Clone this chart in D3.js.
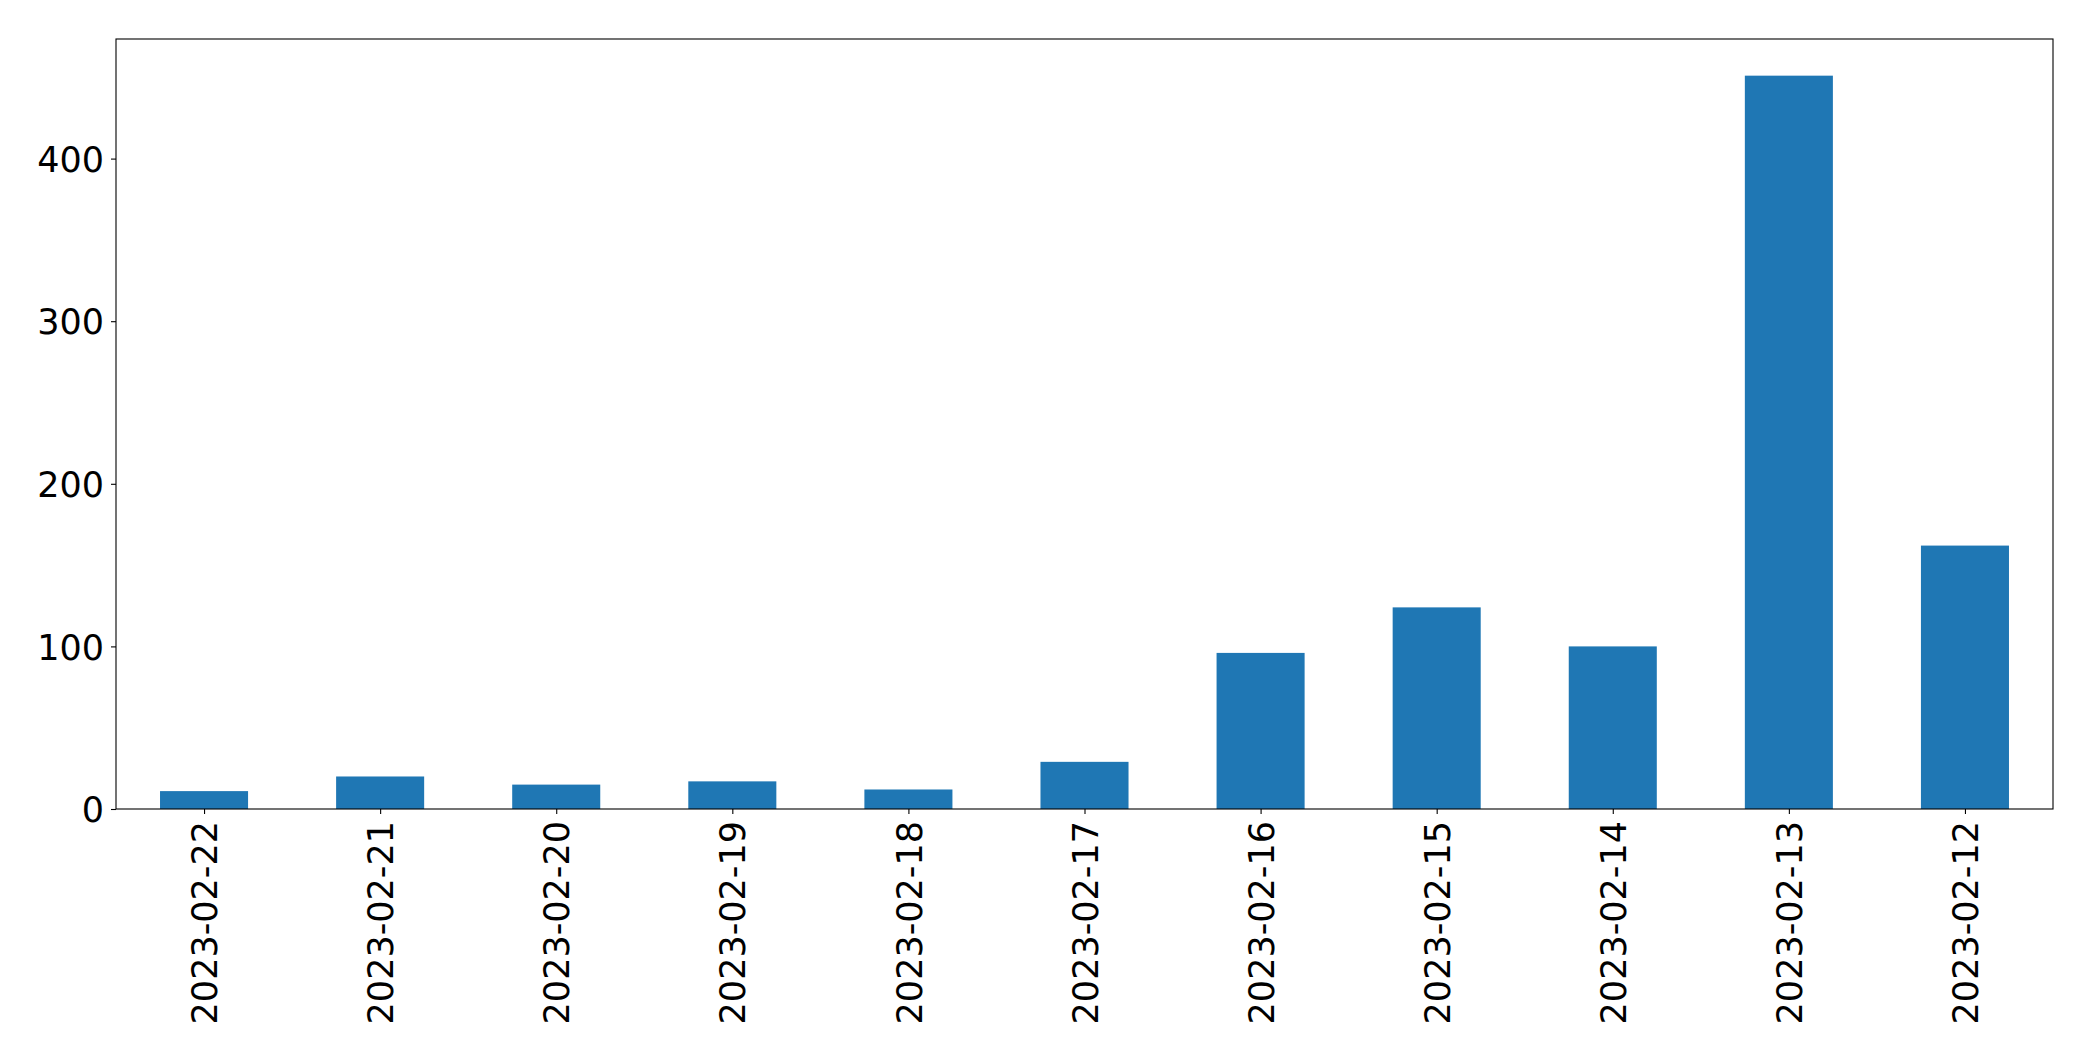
<!DOCTYPE html>
<meta charset="utf-8">
<head>
<title>Daily counts</title>
</head>
<style>
html, body {
  margin: 0;
  background: #fff;
  overflow: hidden;
}
text {
  font-family: "DejaVu Sans", sans-serif;
  fill: #000;
}
</style>
<body>
<script src="https://cdn.jsdelivr.net/npm/d3@7"></script>
<script>

// data
var dates = ["2023-02-22", "2023-02-21", "2023-02-20", "2023-02-19", "2023-02-18",
             "2023-02-17", "2023-02-16", "2023-02-15", "2023-02-14", "2023-02-13", "2023-02-12"];
var counts = [11, 20, 15, 17, 12, 29, 96, 124, 100, 451, 162];
var yTicks = [0, 100, 200, 300, 400];

var width = 2093, height = 1061;
var margin = {top: 39, right: 40, bottom: 252, left: 116};

var svg = d3.select("body").append("svg")
    .attr("width", width)
    .attr("height", height);

var plotW = width - margin.left - margin.right;
var plotH = height - margin.top - margin.bottom;

var g = svg.append("g")
    .attr("transform", "translate(" + margin.left + "," + margin.top + ")");

// matplotlib style: categories at integer positions, xlim -0.5..n-0.5, bar width 0.5
var x = d3.scaleLinear()
    .domain([-0.5, dates.length - 0.5])
    .range([0, plotW]);

var yMax = d3.max(counts) * 1.05;
var y = d3.scaleLinear()
    .domain([0, yMax])
    .range([plotH, 0]);

g.selectAll("rect.bar")
    .data(counts)
    .enter().append("rect")
    .attr("class", "bar")
    .attr("x", function (d, i) { return x(i - 0.25); })
    .attr("width", function (d, i) { return x(i + 0.25) - x(i - 0.25); })
    .attr("y", function (d) { return y(d); })
    .attr("height", function (d) { return y(0) - y(d); })
    .attr("fill", "#1f77b4");

// y axis
var yAxis = d3.axisLeft(y)
    .tickValues(yTicks)
    .tickSize(5)
    .tickPadding(7);

var ya = g.append("g").call(yAxis);
ya.select(".domain").remove();
ya.selectAll("line").attr("stroke", "#000").attr("stroke-width", 1.1);
ya.selectAll("text")
    .style("font-size", "35px")
    .attr("dy", "0.36em");

// x axis
var xAxis = d3.axisBottom(x)
    .tickValues(d3.range(dates.length))
    .tickFormat(function (i) { return dates[i]; })
    .tickSize(5)
    .tickPadding(7);

var xa = g.append("g")
    .attr("transform", "translate(0," + plotH + ")")
    .call(xAxis);
xa.select(".domain").remove();
xa.selectAll("line").attr("stroke", "#000").attr("stroke-width", 1.1);
xa.selectAll("text")
    .style("font-size", "35px")
    .attr("text-anchor", "end")
    .attr("transform", "rotate(-90)")
    .attr("x", -12)
    .attr("y", 0)
    .attr("dy", "0.36em");

// frame
g.append("rect")
    .attr("x", 0)
    .attr("y", 0)
    .attr("width", plotW)
    .attr("height", plotH)
    .attr("fill", "none")
    .attr("stroke", "#000")
    .attr("stroke-width", 1.1);

</script>
</body>
